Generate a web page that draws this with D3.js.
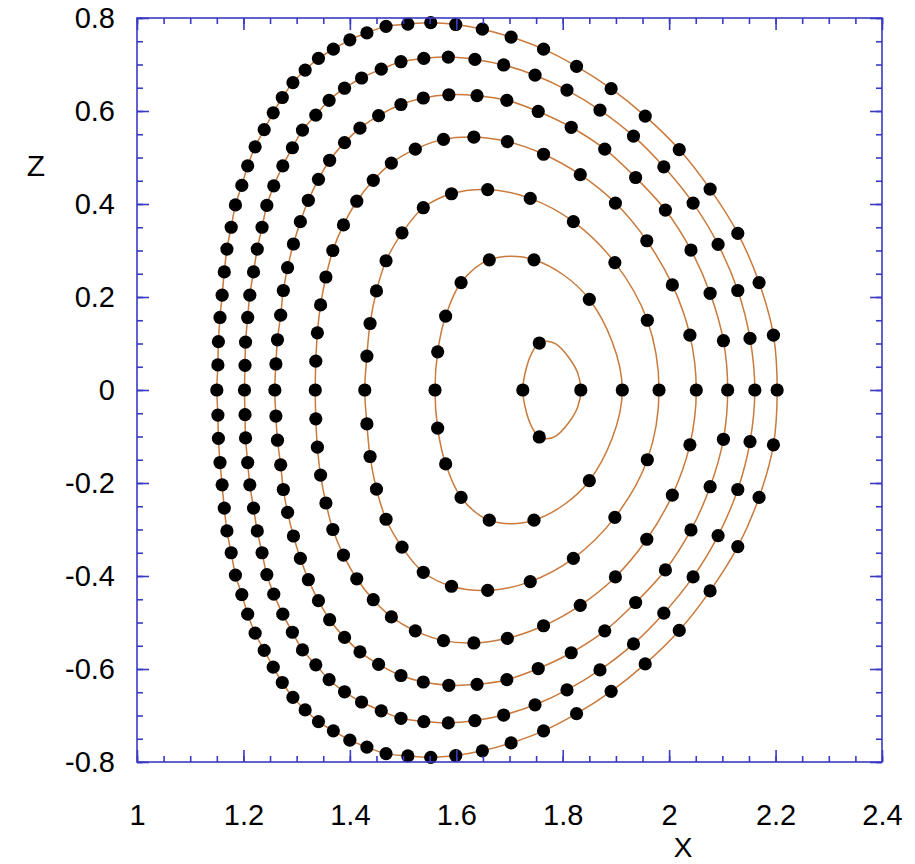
<!DOCTYPE html>
<html>
<head>
<meta charset="utf-8">
<script src="https://cdn.jsdelivr.net/npm/d3@7"></script>
<style>
  html, body { margin: 0; padding: 0; background: #fff; }
  svg { display: block; }
  text { font-family: "Liberation Sans", Arial, sans-serif; fill: #000; }
</style>
</head>
<body>
<svg id="chart" width="915" height="864"></svg>
<script>
// ---- Data: flux-surface sample points [X, Z] ----
const surface1 = [[1.725,0],[1.756,0.101],[1.834,0],[1.756,-0.101]];
const surface1Contour = [[1.725,0],[1.732,0.049],[1.742,0.080],[1.756,0.102],[1.770,0.105],[1.787,0.099],[1.810,0.072],[1.828,0.037],[1.834,0],
  [1.828,-0.037],[1.810,-0.072],[1.787,-0.099],[1.770,-0.105],[1.756,-0.102],[1.742,-0.080],[1.732,-0.049]];
const surface2 = [[1.560,0],[1.565,0.082],[1.580,0.159],[1.609,0.231],[1.662,0.280],[1.746,0.280],[1.850,0.195],[1.912,0],
  [1.850,-0.195],[1.746,-0.280],[1.662,-0.280],[1.609,-0.231],[1.580,-0.159],[1.565,-0.082]];
const surface3 = [[1.428,0],[1.432,0.073],[1.438,0.143],[1.450,0.213],[1.468,0.278],[1.498,0.338],[1.538,0.392],[1.591,0.422],[1.659,0.431],[1.739,0.412],[1.820,0.362],[1.898,0.274],[1.959,0.150],[1.981,0],
  [1.959,-0.150],[1.898,-0.274],[1.820,-0.362],[1.739,-0.412],[1.659,-0.431],[1.591,-0.422],[1.538,-0.392],[1.498,-0.338],[1.468,-0.278],[1.450,-0.213],[1.438,-0.143],[1.432,-0.073]];
const surface4 = [[1.335,0],[1.336,0.062],[1.339,0.123],[1.345,0.183],[1.355,0.243],[1.368,0.300],[1.388,0.355],[1.413,0.406],[1.444,0.451],[1.478,0.488],[1.523,0.518],[1.576,0.539],[1.633,0.544],[1.696,0.534],[1.764,0.507],[1.833,0.463],[1.899,0.402],[1.958,0.321],[2.006,0.226],[2.039,0.118],[2.051,0],
  [2.039,-0.118],[2.006,-0.226],[1.958,-0.321],[1.899,-0.402],[1.833,-0.463],[1.764,-0.507],[1.696,-0.534],[1.633,-0.544],[1.576,-0.539],[1.523,-0.518],[1.478,-0.488],[1.444,-0.451],[1.413,-0.406],[1.388,-0.355],[1.368,-0.300],[1.355,-0.243],[1.345,-0.183],[1.339,-0.123],[1.336,-0.062]];
const surface5 = [[1.259,0],[1.261,0.056],[1.264,0.108],[1.270,0.161],[1.275,0.214],[1.283,0.263],[1.294,0.314],[1.307,0.362],[1.322,0.408],[1.341,0.453],[1.362,0.494],[1.390,0.532],[1.419,0.563],[1.454,0.590],[1.496,0.614],[1.538,0.628],[1.586,0.635],[1.639,0.633],[1.695,0.623],[1.754,0.599],[1.816,0.565],[1.879,0.518],[1.937,0.457],[1.993,0.387],[2.041,0.301],[2.077,0.208],[2.102,0.106],[2.110,0],
  [2.102,-0.106],[2.077,-0.208],[2.041,-0.301],[1.993,-0.387],[1.937,-0.457],[1.879,-0.518],[1.816,-0.565],[1.754,-0.599],[1.695,-0.623],[1.639,-0.633],[1.586,-0.635],[1.538,-0.628],[1.496,-0.614],[1.454,-0.590],[1.419,-0.563],[1.390,-0.532],[1.362,-0.494],[1.341,-0.453],[1.322,-0.408],[1.307,-0.362],[1.294,-0.314],[1.283,-0.263],[1.275,-0.214],[1.270,-0.161],[1.264,-0.108],[1.261,-0.056]];
const surface6 = [[1.202,0],[1.203,0.053],[1.204,0.103],[1.208,0.156],[1.212,0.204],[1.219,0.254],[1.226,0.303],[1.235,0.350],[1.244,0.397],[1.257,0.439],[1.274,0.482],[1.292,0.521],[1.311,0.559],[1.336,0.591],[1.361,0.623],[1.390,0.649],[1.422,0.671],[1.459,0.690],[1.496,0.706],[1.539,0.713],[1.585,0.716],[1.635,0.711],[1.689,0.699],[1.748,0.677],[1.808,0.645],[1.870,0.602],[1.933,0.546],[1.990,0.480],[2.045,0.402],[2.092,0.313],[2.129,0.214],[2.152,0.111],[2.161,0],
  [2.152,-0.111],[2.129,-0.214],[2.092,-0.313],[2.045,-0.402],[1.990,-0.480],[1.933,-0.546],[1.870,-0.602],[1.808,-0.645],[1.748,-0.677],[1.689,-0.699],[1.635,-0.711],[1.585,-0.716],[1.539,-0.713],[1.496,-0.706],[1.459,-0.690],[1.422,-0.671],[1.390,-0.649],[1.361,-0.623],[1.336,-0.591],[1.311,-0.559],[1.292,-0.521],[1.274,-0.482],[1.257,-0.439],[1.244,-0.397],[1.235,-0.350],[1.226,-0.303],[1.219,-0.254],[1.212,-0.204],[1.208,-0.156],[1.204,-0.103],[1.203,-0.053]];
const surface7 = [[1.150,0],[1.152,0.054],[1.153,0.104],[1.156,0.156],[1.160,0.204],[1.164,0.254],[1.169,0.303],[1.177,0.350],[1.185,0.398],[1.197,0.440],[1.208,0.482],[1.222,0.523],[1.239,0.560],[1.256,0.596],[1.273,0.629],[1.293,0.661],[1.316,0.688],[1.341,0.713],[1.369,0.733],[1.400,0.753],[1.432,0.768],[1.468,0.782],[1.509,0.787],[1.552,0.790],[1.599,0.786],[1.649,0.776],[1.703,0.759],[1.764,0.733],[1.826,0.696],[1.891,0.648],[1.955,0.589],[2.019,0.517],[2.077,0.432],[2.129,0.337],[2.169,0.231],[2.196,0.118],[2.203,0],
  [2.196,-0.118],[2.169,-0.231],[2.129,-0.337],[2.077,-0.432],[2.019,-0.517],[1.955,-0.589],[1.891,-0.648],[1.826,-0.696],[1.764,-0.733],[1.703,-0.759],[1.649,-0.776],[1.599,-0.786],[1.552,-0.790],[1.509,-0.787],[1.468,-0.782],[1.432,-0.768],[1.400,-0.753],[1.369,-0.733],[1.341,-0.713],[1.316,-0.688],[1.293,-0.661],[1.273,-0.629],[1.256,-0.596],[1.239,-0.560],[1.222,-0.523],[1.208,-0.482],[1.197,-0.440],[1.185,-0.398],[1.177,-0.350],[1.169,-0.303],[1.164,-0.254],[1.160,-0.204],[1.156,-0.156],[1.153,-0.104],[1.152,-0.054]];

const xTickValues = [1, 1.2, 1.4, 1.6, 1.8, 2, 2.2, 2.4];
const xTickLabels = ["1", "1.2", "1.4", "1.6", "1.8", "2", "2.2", "2.4"];
const yTickValues = [0.8, 0.6, 0.4, 0.2, 0, -0.2, -0.4, -0.6, -0.8];
const yTickLabels = ["0.8", "0.6", "0.4", "0.2", "0", "-0.2", "-0.4", "-0.6", "-0.8"];
const xMinorValues = d3.range(0, 29).map(i => 1 + i * 0.05);
const yMinorValues = d3.range(0, 33).map(i => -0.8 + i * 0.05);

const surfaces = [surface7, surface6, surface5, surface4, surface3, surface2, surface1];
const contours = [surface7, surface6, surface5, surface4, surface3, surface2, surface1Contour];

// ---- Layout ----
const svg = d3.select("#chart");
const L = 137, R = 882, T = 18, B = 762;
const x = d3.scaleLinear().domain([1, 2.4]).range([L, R]);
const y = d3.scaleLinear().domain([-0.8, 0.8]).range([B, T]);
const axisColor = "#3a3ac4";
const fontSize = 29;

// Contour lines
const line = d3.line().x(d => x(d[0])).y(d => y(d[1])).curve(d3.curveCatmullRomClosed.alpha(0.5));
svg.append("g").selectAll("path").data(contours).join("path")
  .attr("d", line).attr("fill", "none").attr("stroke", "#c97a3c").attr("stroke-width", 1.5);

// Points
svg.append("g").selectAll("g").data(surfaces).join("g")
  .selectAll("circle").data(d => d).join("circle")
  .attr("cx", d => x(d[0])).attr("cy", d => y(d[1])).attr("r", 6.6).attr("fill", "#000");

// Axes (ticks point inward)
function styleAxis(g) {
  g.select(".domain").remove();
  g.selectAll("line").attr("stroke", axisColor).attr("stroke-width", 1.6);
}
const fmtX = (d, i) => xTickLabels[i];
const fmtY = (d, i) => yTickLabels[i];
const styleText = g => g.selectAll("text").attr("font-size", fontSize).attr("fill", "#000")
  .attr("font-family", "Liberation Sans, Arial, sans-serif");

svg.append("g").attr("transform", `translate(0,${B})`)
  .call(d3.axisBottom(x).tickValues(xMinorValues).tickSize(-6).tickFormat(""))
  .call(styleAxis);
svg.append("g").attr("transform", `translate(0,${B})`)
  .call(d3.axisBottom(x).tickValues(xTickValues).tickSize(-12).tickPadding(42).tickFormat(fmtX))
  .call(styleAxis).call(styleText);
svg.append("g").attr("transform", `translate(0,${T})`)
  .call(d3.axisTop(x).tickValues(xMinorValues).tickSize(-6).tickFormat(""))
  .call(styleAxis);
svg.append("g").attr("transform", `translate(0,${T})`)
  .call(d3.axisTop(x).tickValues(xTickValues).tickSize(-12).tickFormat(""))
  .call(styleAxis);

svg.append("g").attr("transform", `translate(${L},0)`)
  .call(d3.axisLeft(y).tickValues(yMinorValues).tickSize(-6).tickFormat(""))
  .call(styleAxis);
svg.append("g").attr("transform", `translate(${L},0)`)
  .call(d3.axisLeft(y).tickValues(yTickValues).tickSize(-12).tickPadding(22).tickFormat(fmtY))
  .call(styleAxis).call(styleText);
svg.append("g").attr("transform", `translate(${R},0)`)
  .call(d3.axisRight(y).tickValues(yMinorValues).tickSize(-6).tickFormat(""))
  .call(styleAxis);
svg.append("g").attr("transform", `translate(${R},0)`)
  .call(d3.axisRight(y).tickValues(yTickValues).tickSize(-12).tickFormat(""))
  .call(styleAxis);

// Frame
svg.append("rect").attr("x", L).attr("y", T).attr("width", R - L).attr("height", B - T)
  .attr("fill", "none").attr("stroke", axisColor).attr("stroke-width", 1.6);

// Axis titles
svg.append("text").attr("x", 683).attr("y", 857).attr("text-anchor", "middle")
  .attr("font-size", 28).text("X");
svg.append("text").attr("x", 36).attr("y", 176).attr("text-anchor", "middle")
  .attr("font-size", 30).text("Z");
</script>
</body>
</html>
